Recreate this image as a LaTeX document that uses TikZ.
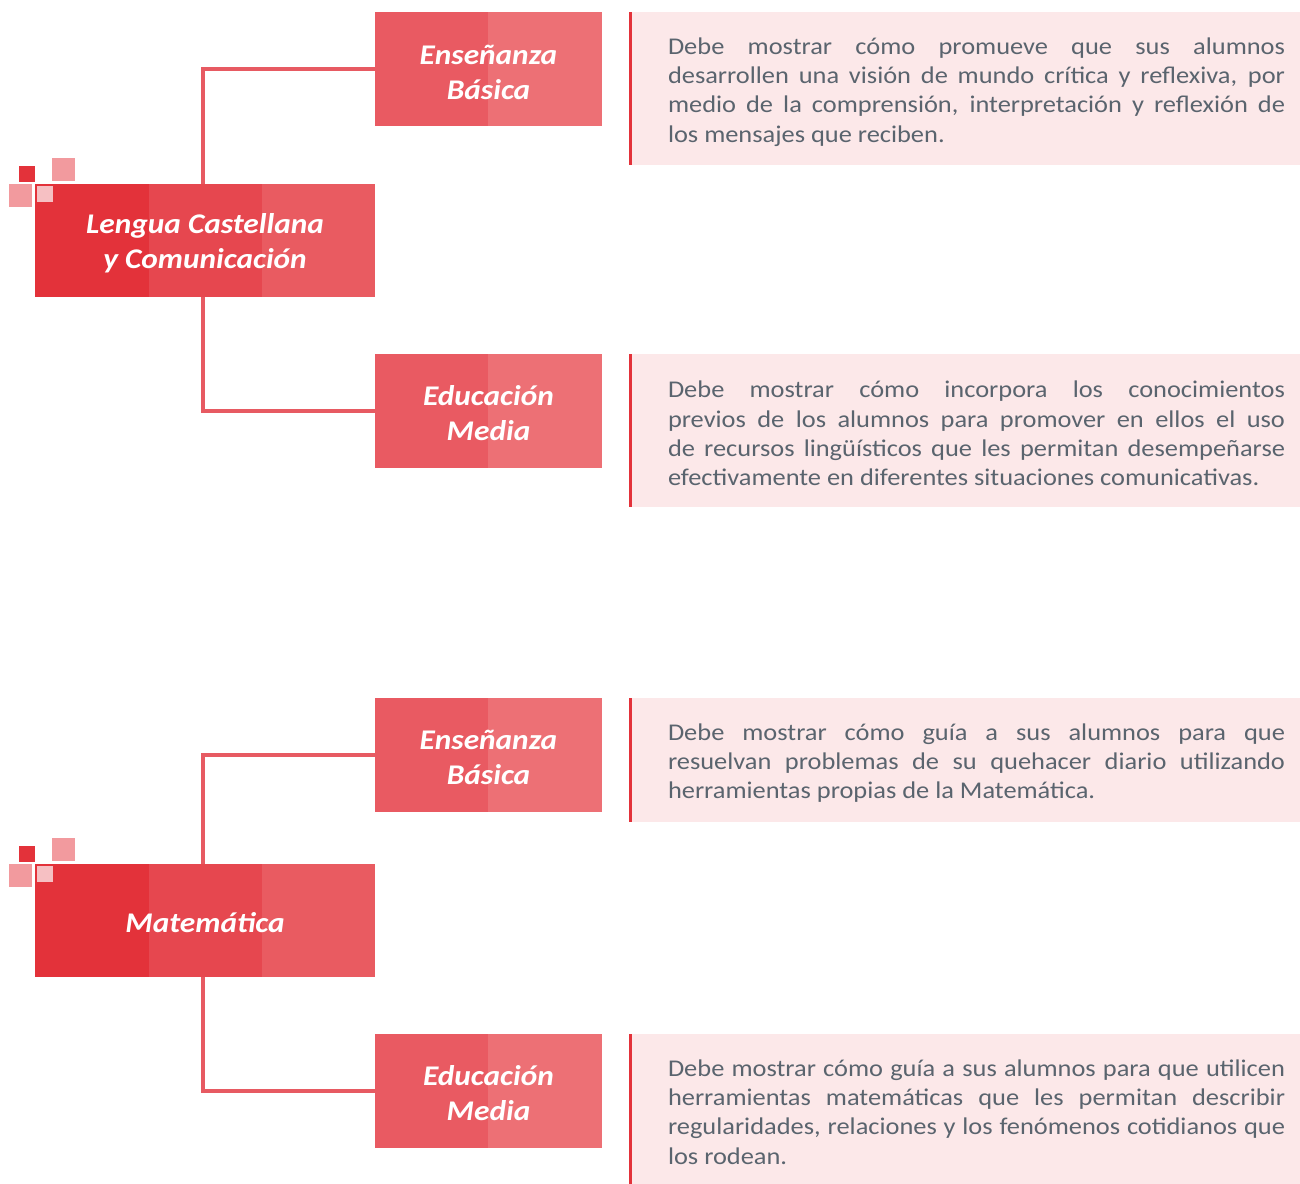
\documentclass[tikz,border=0pt]{standalone}
\usepackage{fontspec}
\setmainfont{Carlito}
\newfontfamily\bodyfont[FakeStretch=1.1]{Carlito}
\newfontfamily\headfont[FakeStretch=1.1]{Carlito}
\usetikzlibrary{calc}
\definecolor{mA}{HTML}{E3323A}
\definecolor{mB}{HTML}{E6474F}
\definecolor{mC}{HTML}{E95B61}
\definecolor{sA}{HTML}{E95A62}
\definecolor{sB}{HTML}{ED7075}
\definecolor{conncol}{HTML}{E75A62}
\definecolor{sqpink}{HTML}{F29A9E}
\definecolor{sqlight}{HTML}{F6C0C3}
\definecolor{tfill}{HTML}{FCE8E9}
\definecolor{tcol}{HTML}{5A646E}
\tikzset{
  mainbox/.style={minimum width=340, minimum height=113, inner sep=0,
    path picture={
      \fill[mA] (path picture bounding box.south west) rectangle ([xshift=114]path picture bounding box.north west);
      \fill[mB] ([xshift=114]path picture bounding box.south west) rectangle ([xshift=227]path picture bounding box.north west);
      \fill[mC] ([xshift=227]path picture bounding box.south west) rectangle (path picture bounding box.north east);
    }},
  subbox/.style={minimum width=227, minimum height=114, inner sep=0,
    path picture={
      \fill[sA] (path picture bounding box.south west) rectangle ([xshift=113]path picture bounding box.north west);
      \fill[sB] ([xshift=113]path picture bounding box.south west) rectangle (path picture bounding box.north east);
    }},
  htext/.style={inner sep=0, text=white, align=center,
    font=\headfont\fontsize{28.5}{35}\selectfont\bfseries\itshape},
  tbox/.style={minimum width=671, inner sep=0, fill=tfill,
    path picture={
      \draw[mA, line width=5] (path picture bounding box.south west) -- (path picture bounding box.north west);
    }},
  ttext/.style={anchor=west, inner sep=0, text width=617, align=justify, text=tcol,
    font=\bodyfont\fontsize{24}{29.3}\selectfont},
  conn/.style={draw=conncol, line width=4},
  sqdark/.style={fill=mA},
  sqp/.style={fill=sqpink},
  sql/.style={fill=sqlight}
}
\begin{document}
\begin{tikzpicture}[x=1pt,y=-1pt]
\clip (0,0) rectangle (1300,1183);
\fill[white] (0,0) rectangle (1300,1183);

% ---------- block 1 ----------
\node[mainbox] (m1) at (205,240.5) {};
\node[htext] (m1x) at ([yshift=-3]m1.center) {Lengua Castellana\\y Comunicación};
\node[subbox] (s11) at (488.5,69) {};
\node[htext] (s11x) at ([yshift=-3]s11.center) {Enseñanza\\Básica};
\node[subbox] (s12) at (488.5,410.5) {};
\node[htext] (s12x) at ([yshift=-3]s12.center) {Educación\\Media};
\draw[conn] ([xshift=-2]m1.north) |- (s11.west);
\draw[conn] ([xshift=-2]m1.south) |- (s12.west);
\fill[sqdark] (19,166) rectangle (35,182);
\fill[sqp] (52,158) rectangle (75,181);
\fill[sqp] (9,184) rectangle (32,207);
\fill[sql] (37,186) rectangle (53,202);

\node[tbox, minimum height=153] (t11) at (964.5,88.5) {};
\node[ttext] (t11x) at ([xshift=39,yshift=-3.5]t11.west) {Debe mostrar cómo promueve que sus alumnos\linebreak
desarrollen una visión de mundo crítica y reflexiva, por\linebreak
medio de la comprensión, interpretación y reflexión de\linebreak
los mensajes que reciben.};

\node[tbox, minimum height=153] (t12) at (964.5,430.5) {};
\node[ttext] (t12x) at ([xshift=39,yshift=-3]t12.west) {Debe mostrar cómo incorpora los conocimientos\linebreak
previos de los alumnos para promover en ellos el uso\linebreak
de recursos lingüísticos que les permitan desempeñarse\linebreak
efectivamente en diferentes situaciones comunicativas.};

% ---------- block 2 ----------
\node[mainbox] (m2) at (205,920.5) {};
\node[htext] (m2x) at ([yshift=-2]m2.center) {Matemática};
\node[subbox] (s21) at (488.5,754.5) {};
\node[htext] (s21x) at ([yshift=-3]s21.center) {Enseñanza\\Básica};
\node[subbox] (s22) at (488.5,1090.5) {};
\node[htext] (s22x) at ([yshift=-3]s22.center) {Educación\\Media};
\draw[conn] ([xshift=-2]m2.north) |- (s21.west);
\draw[conn] ([xshift=-2]m2.south) |- (s22.west);
\fill[sqdark] (19,846) rectangle (35,862);
\fill[sqp] (52,838) rectangle (75,861);
\fill[sqp] (9,864) rectangle (32,887);
\fill[sql] (37,866) rectangle (53,882);

\node[tbox, minimum height=124] (t21) at (964.5,760) {};
\node[ttext] (t21x) at ([xshift=39,yshift=-3]t21.west) {Debe mostrar cómo guía a sus alumnos para que\linebreak
resuelvan problemas de su quehacer diario utilizando\linebreak
herramientas propias de la Matemática.};

\node[tbox, minimum height=156] (t22) at (964.5,1112) {};
\node[ttext] (t22x) at ([xshift=39,yshift=0]t22.west) {Debe mostrar cómo guía a sus alumnos para que utilicen\linebreak
herramientas matemáticas que les permitan describir\linebreak
regularidades, relaciones y los fenómenos cotidianos que\linebreak
los rodean.};
\end{tikzpicture}
\end{document}
